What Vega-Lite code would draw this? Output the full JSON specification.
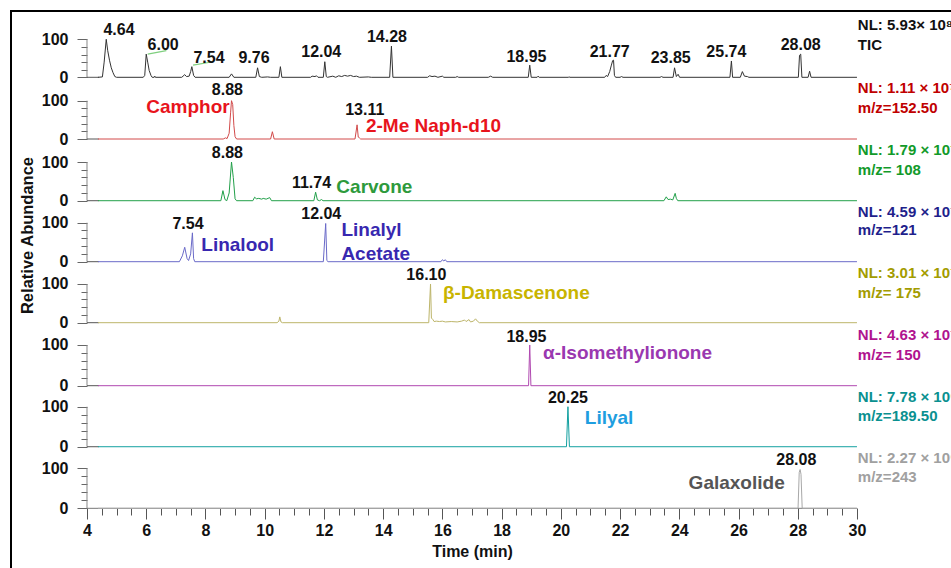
{
  "$schema": "https://vega.github.io/schema/vega-lite/v6.json",
  "width": 943,
  "height": 560,
  "autosize": {"type": "none"},
  "padding": {"left": 11, "top": 11, "right": -3, "bottom": -3},
  "background": "white",
  "config": {
    "font": "Liberation Sans",
    "view": {"stroke": "#000", "strokeWidth": 2},
    "axis": {"grid": false, "domain": false, "labelFontWeight": "bold", "labelFontSize": 16, "labelColor": "#111", "titleFontWeight": "bold", "titleFontSize": 16, "titleColor": "#111", "tickColor": "#666", "tickWidth": 1}
  },
  "datasets": {
    "tr": [
      {"p":"TIC","t":4.37,"v":0},{"p":"TIC","t":4.52,"v":1},{"p":"TIC","t":4.58,"v":40},{"p":"TIC","t":4.65,"v":100},{"p":"TIC","t":4.7,"v":70},{"p":"TIC","t":4.76,"v":45},{"p":"TIC","t":4.82,"v":25},{"p":"TIC","t":4.88,"v":12},{"p":"TIC","t":4.94,"v":2},{"p":"TIC","t":5.0,"v":0},
      {"p":"TIC","t":5.9,"v":0},{"p":"TIC","t":5.95,"v":5},{"p":"TIC","t":6.0,"v":61},{"p":"TIC","t":6.05,"v":40},{"p":"TIC","t":6.1,"v":18},{"p":"TIC","t":6.16,"v":5},{"p":"TIC","t":6.2,"v":0},{"p":"TIC","t":6.27,"v":0},{"p":"TIC","t":6.29,"v":3},{"p":"TIC","t":6.31,"v":0},
      {"p":"TIC","t":7.2,"v":0},{"p":"TIC","t":7.3,"v":7},{"p":"TIC","t":7.36,"v":2},{"p":"TIC","t":7.45,"v":3},{"p":"TIC","t":7.5,"v":15},{"p":"TIC","t":7.54,"v":28},{"p":"TIC","t":7.6,"v":5},{"p":"TIC","t":7.65,"v":0},
      {"p":"TIC","t":8.8,"v":0},{"p":"TIC","t":8.88,"v":9},{"p":"TIC","t":8.96,"v":0},{"p":"TIC","t":9.7,"v":0},{"p":"TIC","t":9.76,"v":25},{"p":"TIC","t":9.82,"v":2},{"p":"TIC","t":9.9,"v":0},{"p":"TIC","t":10.1,"v":1},{"p":"TIC","t":10.2,"v":0},
      {"p":"TIC","t":10.48,"v":0},{"p":"TIC","t":10.53,"v":28},{"p":"TIC","t":10.58,"v":0},{"p":"TIC","t":11.55,"v":0},{"p":"TIC","t":11.6,"v":3},{"p":"TIC","t":11.7,"v":2},{"p":"TIC","t":11.75,"v":4},{"p":"TIC","t":11.8,"v":0},
      {"p":"TIC","t":11.98,"v":0},{"p":"TIC","t":12.03,"v":41},{"p":"TIC","t":12.08,"v":2},{"p":"TIC","t":12.12,"v":0},{"p":"TIC","t":12.3,"v":3},{"p":"TIC","t":12.4,"v":0},{"p":"TIC","t":12.5,"v":4},{"p":"TIC","t":12.6,"v":2},{"p":"TIC","t":12.7,"v":5},{"p":"TIC","t":12.8,"v":3},{"p":"TIC","t":12.9,"v":5},{"p":"TIC","t":13.0,"v":2},{"p":"TIC","t":13.1,"v":3},{"p":"TIC","t":13.2,"v":0},{"p":"TIC","t":13.5,"v":1},{"p":"TIC","t":13.6,"v":0},
      {"p":"TIC","t":14.22,"v":0},{"p":"TIC","t":14.28,"v":82},{"p":"TIC","t":14.33,"v":0},{"p":"TIC","t":15.5,"v":0},{"p":"TIC","t":15.57,"v":4},{"p":"TIC","t":15.65,"v":2},{"p":"TIC","t":15.75,"v":3},{"p":"TIC","t":15.85,"v":0},{"p":"TIC","t":16.0,"v":3},{"p":"TIC","t":16.05,"v":0},{"p":"TIC","t":16.45,"v":0},{"p":"TIC","t":16.5,"v":2},{"p":"TIC","t":16.55,"v":0},
      {"p":"TIC","t":17.55,"v":0},{"p":"TIC","t":17.63,"v":3},{"p":"TIC","t":17.7,"v":0},{"p":"TIC","t":18.9,"v":0},{"p":"TIC","t":18.95,"v":32},{"p":"TIC","t":19.0,"v":0},{"p":"TIC","t":19.2,"v":0},{"p":"TIC","t":19.23,"v":3},{"p":"TIC","t":19.27,"v":0},{"p":"TIC","t":20.25,"v":0},{"p":"TIC","t":20.28,"v":1},{"p":"TIC","t":20.31,"v":0},
      {"p":"TIC","t":21.48,"v":0},{"p":"TIC","t":21.53,"v":5},{"p":"TIC","t":21.58,"v":2},{"p":"TIC","t":21.65,"v":15},{"p":"TIC","t":21.7,"v":30},{"p":"TIC","t":21.75,"v":44},{"p":"TIC","t":21.78,"v":45},{"p":"TIC","t":21.81,"v":5},{"p":"TIC","t":21.85,"v":0},{"p":"TIC","t":22.0,"v":0},{"p":"TIC","t":22.05,"v":2},{"p":"TIC","t":22.1,"v":0},
      {"p":"TIC","t":23.35,"v":0},{"p":"TIC","t":23.4,"v":2},{"p":"TIC","t":23.45,"v":0},{"p":"TIC","t":23.79,"v":0},{"p":"TIC","t":23.84,"v":25},{"p":"TIC","t":23.9,"v":2},{"p":"TIC","t":23.96,"v":8},{"p":"TIC","t":24.01,"v":0},
      {"p":"TIC","t":25.71,"v":0},{"p":"TIC","t":25.76,"v":43},{"p":"TIC","t":25.8,"v":0},{"p":"TIC","t":26.06,"v":0},{"p":"TIC","t":26.13,"v":15},{"p":"TIC","t":26.2,"v":3},{"p":"TIC","t":26.3,"v":2},{"p":"TIC","t":26.35,"v":0},
      {"p":"TIC","t":28.02,"v":0},{"p":"TIC","t":28.06,"v":58},{"p":"TIC","t":28.1,"v":61},{"p":"TIC","t":28.14,"v":0},{"p":"TIC","t":28.35,"v":0},{"p":"TIC","t":28.4,"v":16},{"p":"TIC","t":28.45,"v":0},{"p":"TIC","t":30.0,"v":0},

      {"p":"m152","t":4.37,"v":0},{"p":"m152","t":8.6,"v":0},{"p":"m152","t":8.68,"v":3},{"p":"m152","t":8.73,"v":1},{"p":"m152","t":8.8,"v":15},{"p":"m152","t":8.85,"v":70},{"p":"m152","t":8.88,"v":100},{"p":"m152","t":8.92,"v":90},{"p":"m152","t":8.96,"v":35},{"p":"m152","t":9.0,"v":6},{"p":"m152","t":9.05,"v":0},
      {"p":"m152","t":10.2,"v":0},{"p":"m152","t":10.26,"v":19},{"p":"m152","t":10.32,"v":0},{"p":"m152","t":13.05,"v":0},{"p":"m152","t":13.12,"v":37},{"p":"m152","t":13.16,"v":5},{"p":"m152","t":13.2,"v":3},{"p":"m152","t":13.24,"v":0},{"p":"m152","t":30.0,"v":0},

      {"p":"m108","t":4.37,"v":0},{"p":"m108","t":8.52,"v":0},{"p":"m108","t":8.59,"v":26},{"p":"m108","t":8.66,"v":3},{"p":"m108","t":8.72,"v":0},{"p":"m108","t":8.8,"v":20},{"p":"m108","t":8.88,"v":100},{"p":"m108","t":8.94,"v":60},{"p":"m108","t":9.0,"v":5},{"p":"m108","t":9.05,"v":0},
      {"p":"m108","t":9.6,"v":0},{"p":"m108","t":9.66,"v":9},{"p":"m108","t":9.72,"v":5},{"p":"m108","t":9.8,"v":6},{"p":"m108","t":9.9,"v":4},{"p":"m108","t":9.95,"v":6},{"p":"m108","t":10.05,"v":4},{"p":"m108","t":10.17,"v":8},{"p":"m108","t":10.23,"v":0},
      {"p":"m108","t":11.66,"v":0},{"p":"m108","t":11.72,"v":22},{"p":"m108","t":11.78,"v":2},{"p":"m108","t":11.85,"v":0},{"p":"m108","t":11.92,"v":3},{"p":"m108","t":11.97,"v":0},
      {"p":"m108","t":23.48,"v":0},{"p":"m108","t":23.56,"v":10},{"p":"m108","t":23.62,"v":3},{"p":"m108","t":23.7,"v":4},{"p":"m108","t":23.78,"v":2},{"p":"m108","t":23.86,"v":19},{"p":"m108","t":23.9,"v":6},{"p":"m108","t":23.95,"v":0},{"p":"m108","t":30.0,"v":0},

      {"p":"m121","t":4.37,"v":0},{"p":"m121","t":7.12,"v":0},{"p":"m121","t":7.22,"v":15},{"p":"m121","t":7.3,"v":37},{"p":"m121","t":7.38,"v":8},{"p":"m121","t":7.43,"v":3},{"p":"m121","t":7.5,"v":20},{"p":"m121","t":7.56,"v":74},{"p":"m121","t":7.6,"v":8},{"p":"m121","t":7.64,"v":0},
      {"p":"m121","t":11.98,"v":0},{"p":"m121","t":12.06,"v":98},{"p":"m121","t":12.1,"v":3},{"p":"m121","t":12.14,"v":0},{"p":"m121","t":15.95,"v":0},{"p":"m121","t":16.0,"v":5},{"p":"m121","t":16.05,"v":2},{"p":"m121","t":16.1,"v":5},{"p":"m121","t":16.15,"v":0},{"p":"m121","t":30.0,"v":0},

      {"p":"m175","t":4.37,"v":0},{"p":"m175","t":10.42,"v":0},{"p":"m175","t":10.48,"v":4},{"p":"m175","t":10.51,"v":15},{"p":"m175","t":10.55,"v":2},{"p":"m175","t":10.6,"v":0},
      {"p":"m175","t":15.54,"v":0},{"p":"m175","t":15.6,"v":100},{"p":"m175","t":15.63,"v":12},{"p":"m175","t":15.68,"v":8},{"p":"m175","t":15.72,"v":3},{"p":"m175","t":15.8,"v":4},{"p":"m175","t":15.9,"v":3},{"p":"m175","t":16.0,"v":4},{"p":"m175","t":16.1,"v":2},{"p":"m175","t":16.3,"v":3},{"p":"m175","t":16.5,"v":2},{"p":"m175","t":16.65,"v":4},{"p":"m175","t":16.75,"v":7},{"p":"m175","t":16.8,"v":3},{"p":"m175","t":16.9,"v":8},{"p":"m175","t":16.95,"v":2},{"p":"m175","t":17.05,"v":4},{"p":"m175","t":17.12,"v":10},{"p":"m175","t":17.18,"v":4},{"p":"m175","t":17.25,"v":0},{"p":"m175","t":30.0,"v":0},

      {"p":"m150","t":4.37,"v":0},{"p":"m150","t":18.91,"v":0},{"p":"m150","t":18.95,"v":100},{"p":"m150","t":18.99,"v":0},{"p":"m150","t":30.0,"v":0},
      {"p":"m189","t":4.37,"v":0},{"p":"m189","t":20.19,"v":0},{"p":"m189","t":20.24,"v":100},{"p":"m189","t":20.29,"v":0},{"p":"m189","t":30.0,"v":0},
      {"p":"m243","t":4.37,"v":0},{"p":"m243","t":28.01,"v":0},{"p":"m243","t":28.05,"v":90},{"p":"m243","t":28.08,"v":97},{"p":"m243","t":28.11,"v":85},{"p":"m243","t":28.15,"v":0},{"p":"m243","t":30.0,"v":0}
    ],
    "lb": [
      {"p":"TIC","k":"peak","t":5.08,"v":124,"s":"4.64"},{"p":"TIC","k":"peak","t":6.57,"v":85,"s":"6.00"},{"p":"TIC","k":"peak","t":8.12,"v":50,"s":"7.54"},{"p":"TIC","k":"peak","t":9.64,"v":50,"s":"9.76"},{"p":"TIC","k":"peak","t":11.91,"v":67,"s":"12.04"},{"p":"TIC","k":"peak","t":14.13,"v":105,"s":"14.28"},{"p":"TIC","k":"peak","t":18.84,"v":54,"s":"18.95"},{"p":"TIC","k":"peak","t":21.65,"v":67,"s":"21.77"},{"p":"TIC","k":"peak","t":23.71,"v":50,"s":"23.85"},{"p":"TIC","k":"peak","t":25.59,"v":66,"s":"25.74"},{"p":"TIC","k":"peak","t":28.1,"v":85,"s":"28.08"},
      {"p":"TIC","k":"nl","t":30.03,"v":138,"s":"NL: 5.93× 10⁸"},{"p":"TIC","k":"nl","t":30.03,"v":85,"s":"TIC"},
      {"p":"m152","k":"peak","t":8.74,"v":128,"s":"8.88"},{"p":"m152","k":"peak","t":13.38,"v":76,"s":"13.11"},{"p":"m152","k":"nameR","t":8.82,"v":84,"s":"Camphor"},{"p":"m152","k":"name","t":13.42,"v":34,"s":"2-Me Naph-d10"},
      {"p":"m152","k":"nl","t":30.03,"v":133,"s":"NL: 1.11 × 10⁷"},{"p":"m152","k":"nl","t":30.03,"v":81,"s":"m/z=152.50"},
      {"p":"m108","k":"peak","t":8.74,"v":124,"s":"8.88"},{"p":"m108","k":"peak","t":11.58,"v":45,"s":"11.74"},{"p":"m108","k":"name","t":12.42,"v":35,"s":"Carvone"},
      {"p":"m108","k":"nl","t":30.03,"v":131,"s":"NL: 1.79 × 10⁷"},{"p":"m108","k":"nl","t":30.03,"v":79,"s":"m/z= 108"},
      {"p":"m121","k":"peak","t":7.41,"v":97,"s":"7.54"},{"p":"m121","k":"peak","t":11.91,"v":122,"s":"12.04"},{"p":"m121","k":"name","t":7.86,"v":43,"s":"Linalool"},{"p":"m121","k":"name","t":12.59,"v":81,"s":"Linalyl"},{"p":"m121","k":"name","t":12.59,"v":21,"s":"Acetate"},
      {"p":"m121","k":"nl","t":30.03,"v":128,"s":"NL: 4.59 × 10⁷"},{"p":"m121","k":"nl","t":30.03,"v":81,"s":"m/z=121"},
      {"p":"m175","k":"peak","t":15.46,"v":123,"s":"16.10"},{"p":"m175","k":"name","t":16.02,"v":76,"s":"β-Damascenone"},
      {"p":"m175","k":"nl","t":30.03,"v":128,"s":"NL: 3.01 × 10⁷"},{"p":"m175","k":"nl","t":30.03,"v":78,"s":"m/z= 175"},
      {"p":"m150","k":"peak","t":18.84,"v":120,"s":"18.95"},{"p":"m150","k":"name","t":19.4,"v":81,"s":"α-Isomethylionone"},
      {"p":"m150","k":"nl","t":30.03,"v":125,"s":"NL: 4.63 × 10⁷"},{"p":"m150","k":"nl","t":30.03,"v":75,"s":"m/z= 150"},
      {"p":"m189","k":"peak","t":20.24,"v":121,"s":"20.25"},{"p":"m189","k":"name","t":20.81,"v":72,"s":"Lilyal"},
      {"p":"m189","k":"nl","t":30.03,"v":124,"s":"NL: 7.78 × 10⁶"},{"p":"m189","k":"nl","t":30.03,"v":77,"s":"m/z=189.50"},
      {"p":"m243","k":"peak","t":27.95,"v":122,"s":"28.08"},{"p":"m243","k":"nameR","t":27.56,"v":64,"s":"Galaxolide"},
      {"p":"m243","k":"nl","t":30.03,"v":126,"s":"NL: 2.27 × 10⁶"},{"p":"m243","k":"nl","t":30.03,"v":78,"s":"m/z=243"}
    ],
    "leaders": [
      {"t":6.05,"v":61,"t2":6.68,"v2":70},{"t":7.58,"v":32,"t2":8.25,"v2":41}
    ],
    "axv": [{"t":4,"v":0,"v2":100}],
    "axh": [{"t":4,"t2":4.4,"v":0}],
    "axh8": [{"t":4,"t2":30,"v":0}]
  },
  "encoding": {
    "x": {"field": "t", "type": "quantitative", "scale": {"domain": [1.434, 33.276], "nice": false, "zero": false}, "axis": null}
  },
  "resolve": {"scale": {"y": "independent"}, "axis": {"y": "independent", "x": "independent"}},
  "layer": [
    {
      "encoding": {"y": {"field": "v", "type": "quantitative", "scale": {"domain": [-1299.2, 174.5], "nice": false, "zero": false}, "axis": null}},
      "resolve": {"axis": {"y": "independent", "x": "independent"}},
      "layer": [
        {"data": {"name": "axv"}, "mark": {"type": "rule", "color": "#888", "strokeWidth": 1},
         "encoding": {"y2": {"field": "v2"}, "y": {"field": "v", "type": "quantitative", "scale": {"domain": [-1299.2, 174.5], "nice": false, "zero": false},
           "axis": {"orient": "left", "offset": -76, "values": [20, 40, 60, 80], "tickSize": 6, "labels": false, "title": null}}}},
        {"data": {"name": "axh"}, "mark": {"type": "rule", "color": "#555", "strokeWidth": 1}, "encoding": {"x2": {"field": "t2"}}},
        {"data": {"name": "leaders"}, "mark": {"type": "rule", "color": "#7fcf7f", "strokeWidth": 1.2}, "encoding": {"x2": {"field": "t2"}, "y2": {"field": "v2"}}},
        {"data": {"name": "tr"}, "transform": [{"filter": "datum.p === 'TIC'"}], "mark": {"type": "line", "color": "#333", "strokeWidth": 1},
         "encoding": {"y": {"field": "v", "type": "quantitative", "scale": {"domain": [-1299.2, 174.5], "nice": false, "zero": false},
           "axis": {"orient": "left", "offset": -76, "values": [0, 100], "tickSize": 10, "labelPadding": 9, "labelOverlap": false, "labelFlush": false, "labelBound": false, "title": null}}}},
        {"data": {"name": "lb"}, "transform": [{"filter": "datum.p === 'TIC' && datum.k === 'peak'"}], "mark": {"type": "text", "fontSize": 16, "fontWeight": "bold", "color": "#111", "align": "center", "baseline": "middle"}, "encoding": {"text": {"field": "s"}}},
        {"data": {"name": "lb"}, "transform": [{"filter": "datum.p === 'TIC' && datum.k === 'nl'"}], "mark": {"type": "text", "fontSize": 15, "fontWeight": "bold", "color": "#111", "align": "left", "baseline": "middle"}, "encoding": {"text": {"field": "s"}}}
      ]
    },
    {
      "encoding": {"y": {"field": "v", "type": "quantitative", "scale": {"domain": [-1127.9, 334.2], "nice": false, "zero": false}, "axis": null}},
      "resolve": {"axis": {"y": "independent", "x": "independent"}},
      "layer": [
        {"data": {"name": "axv"}, "mark": {"type": "rule", "color": "#888", "strokeWidth": 1},
         "encoding": {"y2": {"field": "v2"}, "y": {"field": "v", "type": "quantitative", "scale": {"domain": [-1127.9, 334.2], "nice": false, "zero": false},
           "axis": {"orient": "left", "offset": -76, "values": [20, 40, 60, 80], "tickSize": 6, "labels": false, "title": null}}}},
        {"data": {"name": "axh"}, "mark": {"type": "rule", "color": "#555", "strokeWidth": 1}, "encoding": {"x2": {"field": "t2"}}},
        {"data": {"name": "tr"}, "transform": [{"filter": "datum.p === 'm152'"}], "mark": {"type": "line", "color": "#d24a4a", "strokeWidth": 1},
         "encoding": {"y": {"field": "v", "type": "quantitative", "scale": {"domain": [-1127.9, 334.2], "nice": false, "zero": false},
           "axis": {"orient": "left", "offset": -76, "values": [0, 100], "tickSize": 10, "labelPadding": 9, "labelOverlap": false, "labelFlush": false, "labelBound": false, "title": null}}}},
        {"data": {"name": "lb"}, "transform": [{"filter": "datum.p === 'm152' && datum.k === 'peak'"}], "mark": {"type": "text", "fontSize": 16, "fontWeight": "bold", "color": "#111", "align": "center", "baseline": "middle"}, "encoding": {"text": {"field": "s"}}},
        {"data": {"name": "lb"}, "transform": [{"filter": "datum.p === 'm152' && datum.k === 'name'"}], "mark": {"type": "text", "fontSize": 19, "fontWeight": "bold", "color": "#e8141c", "align": "left", "baseline": "middle"}, "encoding": {"text": {"field": "s"}}},
        {"data": {"name": "lb"}, "transform": [{"filter": "datum.p === 'm152' && datum.k === 'nameR'"}], "mark": {"type": "text", "fontSize": 19, "fontWeight": "bold", "color": "#e8141c", "align": "right", "baseline": "middle"}, "encoding": {"text": {"field": "s"}}},
        {"data": {"name": "lb"}, "transform": [{"filter": "datum.p === 'm152' && datum.k === 'nl'"}], "mark": {"type": "text", "fontSize": 15, "fontWeight": "bold", "color": "#c00000", "align": "left", "baseline": "middle"}, "encoding": {"text": {"field": "s"}}}
      ]
    },
    {
      "encoding": {"y": {"field": "v", "type": "quantitative", "scale": {"domain": [-956.8, 490.2], "nice": false, "zero": false}, "axis": null}},
      "resolve": {"axis": {"y": "independent", "x": "independent"}},
      "layer": [
        {"data": {"name": "axv"}, "mark": {"type": "rule", "color": "#888", "strokeWidth": 1},
         "encoding": {"y2": {"field": "v2"}, "y": {"field": "v", "type": "quantitative", "scale": {"domain": [-956.8, 490.2], "nice": false, "zero": false},
           "axis": {"orient": "left", "offset": -76, "values": [20, 40, 60, 80], "tickSize": 6, "labels": false, "title": null}}}},
        {"data": {"name": "axh"}, "mark": {"type": "rule", "color": "#555", "strokeWidth": 1}, "encoding": {"x2": {"field": "t2"}}},
        {"data": {"name": "tr"}, "transform": [{"filter": "datum.p === 'm108'"}], "mark": {"type": "line", "color": "#22a04a", "strokeWidth": 1},
         "encoding": {"y": {"field": "v", "type": "quantitative", "scale": {"domain": [-956.8, 490.2], "nice": false, "zero": false},
           "axis": {"orient": "left", "offset": -76, "values": [0, 100], "tickSize": 10, "labelPadding": 9, "labelOverlap": false, "labelFlush": false, "labelBound": false, "title": null}}}},
        {"data": {"name": "lb"}, "transform": [{"filter": "datum.p === 'm108' && datum.k === 'peak'"}], "mark": {"type": "text", "fontSize": 16, "fontWeight": "bold", "color": "#111", "align": "center", "baseline": "middle"}, "encoding": {"text": {"field": "s"}}},
        {"data": {"name": "lb"}, "transform": [{"filter": "datum.p === 'm108' && datum.k === 'name'"}], "mark": {"type": "text", "fontSize": 19, "fontWeight": "bold", "color": "#2e9a3c", "align": "left", "baseline": "middle"}, "encoding": {"text": {"field": "s"}}},
        {"data": {"name": "lb"}, "transform": [{"filter": "datum.p === 'm108' && datum.k === 'nl'"}], "mark": {"type": "text", "fontSize": 15, "fontWeight": "bold", "color": "#129a2a", "align": "left", "baseline": "middle"}, "encoding": {"text": {"field": "s"}}}
      ]
    },
    {
      "encoding": {"y": {"field": "v", "type": "quantitative", "scale": {"domain": [-793.1, 642.8], "nice": false, "zero": false}, "axis": null}},
      "resolve": {"axis": {"y": "independent", "x": "independent"}},
      "layer": [
        {"data": {"name": "axv"}, "mark": {"type": "rule", "color": "#888", "strokeWidth": 1},
         "encoding": {"y2": {"field": "v2"}, "y": {"field": "v", "type": "quantitative", "scale": {"domain": [-793.1, 642.8], "nice": false, "zero": false},
           "axis": {"orient": "left", "offset": -76, "values": [20, 40, 60, 80], "tickSize": 6, "labels": false, "title": null}}}},
        {"data": {"name": "axh"}, "mark": {"type": "rule", "color": "#555", "strokeWidth": 1}, "encoding": {"x2": {"field": "t2"}}},
        {"data": {"name": "tr"}, "transform": [{"filter": "datum.p === 'm121'"}], "mark": {"type": "line", "color": "#6a6ac8", "strokeWidth": 1},
         "encoding": {"y": {"field": "v", "type": "quantitative", "scale": {"domain": [-793.1, 642.8], "nice": false, "zero": false},
           "axis": {"orient": "left", "offset": -76, "values": [0, 100], "tickSize": 10, "labelPadding": 9, "labelOverlap": false, "labelFlush": false, "labelBound": false,
             "title": "Relative Abundance", "titleX": -60, "titleY": 224, "titleAngle": -90, "titleAlign": "center", "titleBaseline": "middle", "titleFontSize": 16.5}}}},
        {"data": {"name": "lb"}, "transform": [{"filter": "datum.p === 'm121' && datum.k === 'peak'"}], "mark": {"type": "text", "fontSize": 16, "fontWeight": "bold", "color": "#111", "align": "center", "baseline": "middle"}, "encoding": {"text": {"field": "s"}}},
        {"data": {"name": "lb"}, "transform": [{"filter": "datum.p === 'm121' && datum.k === 'name'"}], "mark": {"type": "text", "fontSize": 19, "fontWeight": "bold", "color": "#3828b0", "align": "left", "baseline": "middle"}, "encoding": {"text": {"field": "s"}}},
        {"data": {"name": "lb"}, "transform": [{"filter": "datum.p === 'm121' && datum.k === 'nl'"}], "mark": {"type": "text", "fontSize": 15, "fontWeight": "bold", "color": "#1f1f8c", "align": "left", "baseline": "middle"}, "encoding": {"text": {"field": "s"}}}
      ]
    },
    {
      "encoding": {"y": {"field": "v", "type": "quantitative", "scale": {"domain": [-641.6, 805.4], "nice": false, "zero": false}, "axis": null}},
      "resolve": {"axis": {"y": "independent", "x": "independent"}},
      "layer": [
        {"data": {"name": "axv"}, "mark": {"type": "rule", "color": "#888", "strokeWidth": 1},
         "encoding": {"y2": {"field": "v2"}, "y": {"field": "v", "type": "quantitative", "scale": {"domain": [-641.6, 805.4], "nice": false, "zero": false},
           "axis": {"orient": "left", "offset": -76, "values": [20, 40, 60, 80], "tickSize": 6, "labels": false, "title": null}}}},
        {"data": {"name": "axh"}, "mark": {"type": "rule", "color": "#555", "strokeWidth": 1}, "encoding": {"x2": {"field": "t2"}}},
        {"data": {"name": "tr"}, "transform": [{"filter": "datum.p === 'm175'"}], "mark": {"type": "line", "color": "#bdb56a", "strokeWidth": 1},
         "encoding": {"y": {"field": "v", "type": "quantitative", "scale": {"domain": [-641.6, 805.4], "nice": false, "zero": false},
           "axis": {"orient": "left", "offset": -76, "values": [0, 100], "tickSize": 10, "labelPadding": 9, "labelOverlap": false, "labelFlush": false, "labelBound": false, "title": null}}}},
        {"data": {"name": "lb"}, "transform": [{"filter": "datum.p === 'm175' && datum.k === 'peak'"}], "mark": {"type": "text", "fontSize": 16, "fontWeight": "bold", "color": "#111", "align": "center", "baseline": "middle"}, "encoding": {"text": {"field": "s"}}},
        {"data": {"name": "lb"}, "transform": [{"filter": "datum.p === 'm175' && datum.k === 'name'"}], "mark": {"type": "text", "fontSize": 19, "fontWeight": "bold", "color": "#c8b400", "align": "left", "baseline": "middle"}, "encoding": {"text": {"field": "s"}}},
        {"data": {"name": "lb"}, "transform": [{"filter": "datum.p === 'm175' && datum.k === 'nl'"}], "mark": {"type": "text", "fontSize": 15, "fontWeight": "bold", "color": "#a39c00", "align": "left", "baseline": "middle"}, "encoding": {"text": {"field": "s"}}}
      ]
    },
    {
      "encoding": {"y": {"field": "v", "type": "quantitative", "scale": {"domain": [-455.3, 920.6], "nice": false, "zero": false}, "axis": null}},
      "resolve": {"axis": {"y": "independent", "x": "independent"}},
      "layer": [
        {"data": {"name": "axv"}, "mark": {"type": "rule", "color": "#888", "strokeWidth": 1},
         "encoding": {"y2": {"field": "v2"}, "y": {"field": "v", "type": "quantitative", "scale": {"domain": [-455.3, 920.6], "nice": false, "zero": false},
           "axis": {"orient": "left", "offset": -76, "values": [20, 40, 60, 80], "tickSize": 6, "labels": false, "title": null}}}},
        {"data": {"name": "axh"}, "mark": {"type": "rule", "color": "#555", "strokeWidth": 1}, "encoding": {"x2": {"field": "t2"}}},
        {"data": {"name": "tr"}, "transform": [{"filter": "datum.p === 'm150'"}], "mark": {"type": "line", "color": "#b048b0", "strokeWidth": 1},
         "encoding": {"y": {"field": "v", "type": "quantitative", "scale": {"domain": [-455.3, 920.6], "nice": false, "zero": false},
           "axis": {"orient": "left", "offset": -76, "values": [0, 100], "tickSize": 10, "labelPadding": 9, "labelOverlap": false, "labelFlush": false, "labelBound": false, "title": null}}}},
        {"data": {"name": "lb"}, "transform": [{"filter": "datum.p === 'm150' && datum.k === 'peak'"}], "mark": {"type": "text", "fontSize": 16, "fontWeight": "bold", "color": "#111", "align": "center", "baseline": "middle"}, "encoding": {"text": {"field": "s"}}},
        {"data": {"name": "lb"}, "transform": [{"filter": "datum.p === 'm150' && datum.k === 'name'"}], "mark": {"type": "text", "fontSize": 19, "fontWeight": "bold", "color": "#9a38b0", "align": "left", "baseline": "middle"}, "encoding": {"text": {"field": "s"}}},
        {"data": {"name": "lb"}, "transform": [{"filter": "datum.p === 'm150' && datum.k === 'nl'"}], "mark": {"type": "text", "fontSize": 15, "fontWeight": "bold", "color": "#b0138f", "align": "left", "baseline": "middle"}, "encoding": {"text": {"field": "s"}}}
      ]
    },
    {
      "encoding": {"y": {"field": "v", "type": "quantitative", "scale": {"domain": [-310.7, 1089.3], "nice": false, "zero": false}, "axis": null}},
      "resolve": {"axis": {"y": "independent", "x": "independent"}},
      "layer": [
        {"data": {"name": "axv"}, "mark": {"type": "rule", "color": "#888", "strokeWidth": 1},
         "encoding": {"y2": {"field": "v2"}, "y": {"field": "v", "type": "quantitative", "scale": {"domain": [-310.7, 1089.3], "nice": false, "zero": false},
           "axis": {"orient": "left", "offset": -76, "values": [20, 40, 60, 80], "tickSize": 6, "labels": false, "title": null}}}},
        {"data": {"name": "axh"}, "mark": {"type": "rule", "color": "#555", "strokeWidth": 1}, "encoding": {"x2": {"field": "t2"}}},
        {"data": {"name": "tr"}, "transform": [{"filter": "datum.p === 'm189'"}], "mark": {"type": "line", "color": "#12a0a0", "strokeWidth": 1},
         "encoding": {"y": {"field": "v", "type": "quantitative", "scale": {"domain": [-310.7, 1089.3], "nice": false, "zero": false},
           "axis": {"orient": "left", "offset": -76, "values": [0, 100], "tickSize": 10, "labelPadding": 9, "labelOverlap": false, "labelFlush": false, "labelBound": false, "title": null}}}},
        {"data": {"name": "lb"}, "transform": [{"filter": "datum.p === 'm189' && datum.k === 'peak'"}], "mark": {"type": "text", "fontSize": 16, "fontWeight": "bold", "color": "#111", "align": "center", "baseline": "middle"}, "encoding": {"text": {"field": "s"}}},
        {"data": {"name": "lb"}, "transform": [{"filter": "datum.p === 'm189' && datum.k === 'name'"}], "mark": {"type": "text", "fontSize": 19, "fontWeight": "bold", "color": "#1e9ee0", "align": "left", "baseline": "middle"}, "encoding": {"text": {"field": "s"}}},
        {"data": {"name": "lb"}, "transform": [{"filter": "datum.p === 'm189' && datum.k === 'nl'"}], "mark": {"type": "text", "fontSize": 15, "fontWeight": "bold", "color": "#0a9090", "align": "left", "baseline": "middle"}, "encoding": {"text": {"field": "s"}}}
      ]
    },
    {
      "encoding": {"y": {"field": "v", "type": "quantitative", "scale": {"domain": [-156.7, 1243.3], "nice": false, "zero": false}, "axis": null}},
      "resolve": {"axis": {"y": "independent", "x": "independent"}},
      "layer": [
        {"data": {"name": "axv"}, "mark": {"type": "rule", "color": "#888", "strokeWidth": 1},
         "encoding": {"y2": {"field": "v2"}, "y": {"field": "v", "type": "quantitative", "scale": {"domain": [-156.7, 1243.3], "nice": false, "zero": false},
           "axis": {"orient": "left", "offset": -76, "values": [20, 40, 60, 80], "tickSize": 6, "labels": false, "title": null}}}},
        {"data": {"name": "axh8"}, "mark": {"type": "rule", "color": "#777", "strokeWidth": 1},
         "encoding": {"x2": {"field": "t2"},
           "x": {"field": "t", "type": "quantitative", "scale": {"domain": [1.434, 33.276], "nice": false, "zero": false},
             "axis": {"orient": "bottom", "offset": -63, "values": [4.5,5,5.5,6.5,7,7.5,8.5,9,9.5,10.5,11,11.5,12.5,13,13.5,14.5,15,15.5,16.5,17,17.5,18.5,19,19.5,20.5,21,21.5,22.5,23,23.5,24.5,25,25.5,26.5,27,27.5,28.5,29,29.5], "tickSize": 7, "tickColor": "#555", "labels": false, "title": null}}}},
        {"data": {"name": "tr"}, "transform": [{"filter": "datum.p === 'm243'"}], "mark": {"type": "line", "color": "#a8a8a8", "strokeWidth": 1},
         "encoding": {
           "x": {"field": "t", "type": "quantitative", "scale": {"domain": [1.434, 33.276], "nice": false, "zero": false},
             "axis": {"orient": "bottom", "offset": -63, "values": [4,6,8,10,12,14,16,18,20,22,24,26,28,30],
               "tickSize": 11, "tickColor": "#555", "labelPadding": 3, "labelOverlap": false, "labelFlush": false, "labelBound": false,
               "title": "Time (min)", "titleX": 461, "titleY": 43, "titleAlign": "center", "titleBaseline": "middle", "titleAngle": 0}},
           "y": {"field": "v", "type": "quantitative", "scale": {"domain": [-156.7, 1243.3], "nice": false, "zero": false},
           "axis": {"orient": "left", "offset": -76, "values": [0, 100], "tickSize": 10, "labelPadding": 9, "labelOverlap": false, "labelFlush": false, "labelBound": false, "title": null}}}},
        {"data": {"name": "lb"}, "transform": [{"filter": "datum.p === 'm243' && datum.k === 'peak'"}], "mark": {"type": "text", "fontSize": 16, "fontWeight": "bold", "color": "#111", "align": "center", "baseline": "middle"}, "encoding": {"text": {"field": "s"}}},
        {"data": {"name": "lb"}, "transform": [{"filter": "datum.p === 'm243' && datum.k === 'nameR'"}], "mark": {"type": "text", "fontSize": 19, "fontWeight": "bold", "color": "#555", "align": "right", "baseline": "middle"}, "encoding": {"text": {"field": "s"}}},
        {"data": {"name": "lb"}, "transform": [{"filter": "datum.p === 'm243' && datum.k === 'nl'"}], "mark": {"type": "text", "fontSize": 15, "fontWeight": "bold", "color": "#a0a0a0", "align": "left", "baseline": "middle"}, "encoding": {"text": {"field": "s"}}}
      ]
    }
  ]
}
